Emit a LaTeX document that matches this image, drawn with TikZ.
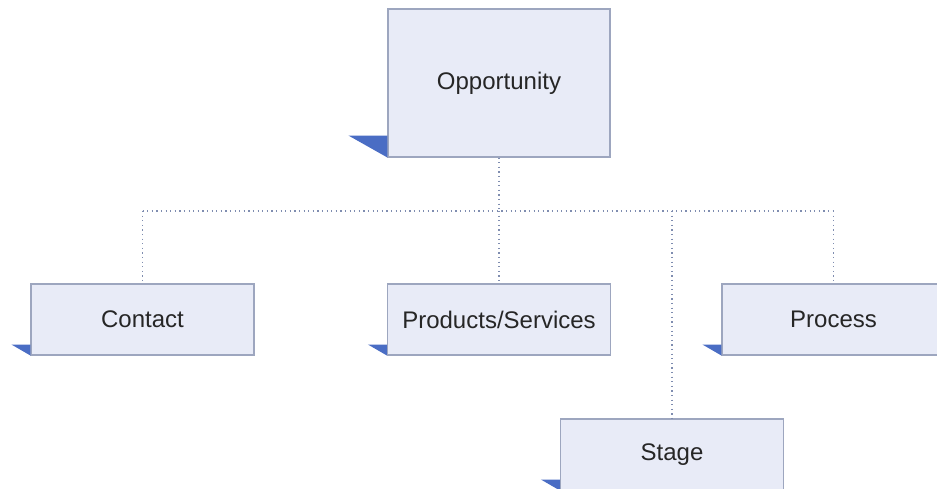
\documentclass[tikz,border=0pt]{standalone}
\usepackage{xcolor}
\usepackage{fontspec}
\setmainfont{Liberation Sans}
\usepackage{tikz}

\definecolor{boxfill}{HTML}{E8EBF7}
\definecolor{boxline}{HTML}{9DA6BF}
\definecolor{flagblue}{HTML}{4A6DC4}
\definecolor{linkgray}{HTML}{7F8DB0}

\begin{document}
\begin{tikzpicture}[x=1pt,y=1pt,
		box/.style={draw=boxline,line width=1.1pt,fill=boxfill,inner sep=0pt,
			minimum width=223,minimum height=71,text=black!85,
			font=\fontsize{24}{28}\selectfont},
		link/.style={draw=linkgray,line width=1.3pt,dash pattern=on 1.2pt off 3.4pt}]
		\useasboundingbox (0,0) rectangle (937,489);
		\fill[white] (0,0) rectangle (937,489);
		
		\node[box,minimum width=222,minimum height=148] (opp) at (499,406) {Opportunity};
		\node[box] (contact) at (142.5,169.5) {Contact};
		\node[box] (prod) at (499,169.5) {Products/Services};
		\node[box] (proc) at (833.5,169.5) {Process};
		\node[box] (stage) at (672,34.5) {Stage};
		\coordinate (bus) at (0,278);
		
		\fill[flagblue] (opp.south west) -- ++(0,22) -- ++(-39,0) -- cycle;
		\foreach \n in {contact,prod,proc,stage}
		\fill[flagblue] (\n.south west) -- ++(0,11) -- ++(-19,0) -- cycle;
		
		\draw[link] (opp.south) -- (opp.south |- bus);
		\draw[link] (contact.north |- bus) -- (proc.north |- bus);
		\foreach \n in {contact,prod,proc,stage}
		\draw[link] (\n.north |- bus) -- (\n.north);
	\end{tikzpicture}
\end{document}
